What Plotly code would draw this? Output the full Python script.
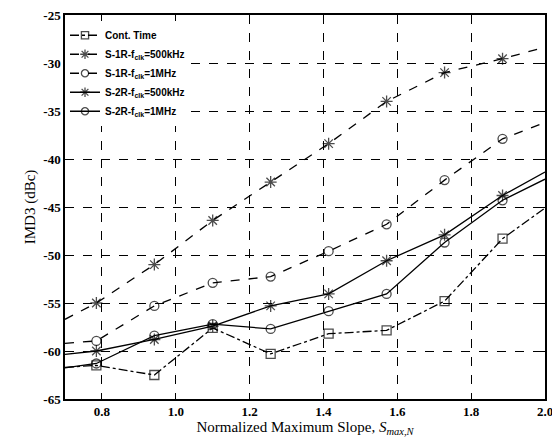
import plotly.graph_objects as go

# x positions (first/last are the plot edges where lines are clipped)
x_vals = [0.7, 0.785, 0.942, 1.100, 1.257, 1.414, 1.571, 1.728, 1.885, 2.0]

cont_time = [-61.7, -61.5, -62.5, -57.6, -60.3, -58.2, -57.85, -54.8, -48.3, -45.1]
s1r_500k = [-56.7, -55.0, -51.0, -46.4, -42.4, -38.4, -34.0, -31.0, -29.55, -28.35]
s1r_1m = [-59.2, -58.95, -55.3, -52.9, -52.25, -49.6, -46.8, -42.2, -37.9, -36.2]
s2r_500k = [-60.35, -60.0, -58.8, -57.4, -55.3, -54.05, -50.6, -47.9, -43.8, -41.35]
s2r_1m = [-61.75, -61.3, -58.4, -57.2, -57.7, -55.85, -54.05, -48.7, -44.3, -42.1]

names = ["Cont. Time",
         "S-1R-f<sub>clk</sub>=500kHz",
         "S-1R-f<sub>clk</sub>=1MHz",
         "S-2R-f<sub>clk</sub>=500kHz",
         "S-2R-f<sub>clk</sub>=1MHz"]

x_ticks = [0.8, 1.0, 1.2, 1.4, 1.6, 1.8, 2.0]
x_tick_text = ["<b>0.8</b>", "<b>1.0</b>", "<b>1.2</b>", "<b>1.4</b>",
               "<b>1.6</b>", "<b>1.8</b>", "<b>2.0</b>"]
y_ticks = [-65, -60, -55, -50, -45, -40, -35, -30, -25]
y_tick_text = ["<b>-65</b>", "<b>-60</b>", "<b>-55</b>", "<b>-50</b>", "<b>-45</b>",
               "<b>-40</b>", "<b>-35</b>", "<b>-30</b>", "<b>-25</b>"]

series = [cont_time, s1r_500k, s1r_1m, s2r_500k, s2r_1m]
dashes = ["dashdot", "dash", "dash", "solid", "solid"]
symbols = ["square-open", "asterisk-open", "circle-open", "asterisk-open", "circle-open"]
base_sizes = [9, 10, 9, 10, 9]

fig = go.Figure()
for name, ys, dash, sym, sz in zip(names, series, dashes, symbols, base_sizes):
    sizes = [0] + [sz] * (len(x_vals) - 2) + [0]
    fig.add_trace(go.Scatter(
        x=x_vals, y=ys, name="<b>" + name + "</b>", mode="lines+markers",
        line=dict(color="black", width=1.3, dash=dash),
        marker=dict(symbol=sym, size=sizes, color="black",
                    line=dict(color="black", width=1.3)),
        cliponaxis=True,
    ))

serif = "Liberation Serif"
# the page body has an 8px default margin; the figure is sized so that it
# fits in the window without scrollbars and lands where the reference is
fig.update_layout(
    width=552, height=431,
    margin=dict(l=57, r=15, t=7, b=40, autoexpand=False),
    paper_bgcolor="white", plot_bgcolor="white",
    font=dict(family=serif, color="black", size=13),
    showlegend=True,
    legend=dict(x=0.0, y=0.985, xanchor="left", yanchor="top",
                bgcolor="white", borderwidth=0,
                font=dict(family="Liberation Sans", size=10, color="black"),
                tracegroupgap=0, itemwidth=30),
)
fig.update_xaxes(
    range=[0.7, 2.0], tickvals=x_ticks, ticktext=x_tick_text,
    tickfont=dict(family=serif, size=13, color="black"),
    ticklabeloverflow="allow",
    showgrid=True, gridcolor="black", gridwidth=1, griddash="dash",
    showline=True, linecolor="black", linewidth=1.5, mirror="ticks",
    ticks="inside", ticklen=5, tickcolor="black",
    zeroline=False, automargin=False,
    title=dict(text="Normalized Maximum Slope, <i>S<sub>max,N</sub></i>",
               font=dict(family=serif, size=15, color="black"), standoff=0),
)
fig.update_yaxes(
    range=[-65, -25], tickvals=y_ticks, ticktext=y_tick_text,
    tickfont=dict(family=serif, size=13, color="black"),
    ticklabeloverflow="allow",
    showgrid=True, gridcolor="black", gridwidth=1, griddash="dash",
    showline=True, linecolor="black", linewidth=1.5, mirror="ticks",
    ticks="inside", ticklen=5, tickcolor="black",
    zeroline=False, automargin=False,
    title=dict(text="IMD3 (dBc)", font=dict(family=serif, size=15, color="black"), standoff=4),
)

fig.write_html("out.html")
